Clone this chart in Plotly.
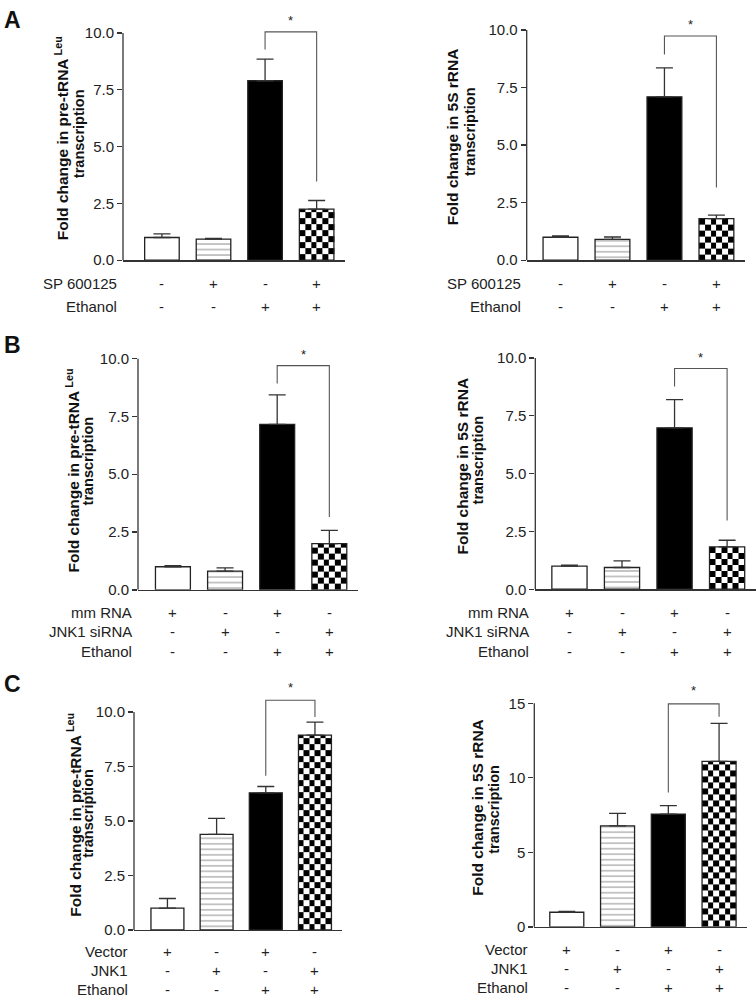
import numpy as np
import plotly.graph_objects as go

W, H = 756, 1002
FONT = "Liberation Sans, Arial, Helvetica, sans-serif"
SY = 1.009  # small vertical compensation observed in rendering

# ---------------- data ----------------
groups = [0, 1, 2, 3]

A_trna_mean = [1.00, 0.93, 7.90, 2.25]
A_trna_sem = [0.16, 0.03, 0.95, 0.38]
A_5s_mean = [1.00, 0.91, 7.10, 1.81]
A_5s_sem = [0.06, 0.10, 1.26, 0.15]

B_trna_mean = [1.00, 0.81, 7.16, 2.00]
B_trna_sem = [0.05, 0.14, 1.27, 0.57]
B_5s_mean = [1.00, 0.94, 6.98, 1.83]
B_5s_sem = [0.04, 0.29, 1.22, 0.29]

C_trna_mean = [1.00, 4.38, 6.29, 8.94]
C_trna_sem = [0.44, 0.74, 0.29, 0.59]
C_5s_mean = [0.98, 6.78, 7.57, 11.10]
C_5s_sem = [0.06, 0.83, 0.56, 2.56]

# significance bracket: [top, left leg end, right leg end, star]
A_trna_sig = [10.05, 9.27, 3.47, 10.55]
A_5s_sig = [9.74, 8.94, 3.16, 10.25]
B_trna_sig = [9.70, 8.92, 3.15, 10.20]
B_5s_sig = [9.55, 8.77, 2.97, 10.04]
C_trna_sig = [10.54, 7.07, 9.77, 11.10]
C_5s_sig = [14.96, 9.02, 14.10, 15.85]

ticks_10 = [0, 2.5, 5, 7.5, 10]
ticks_10_text = ["0.0", "2.5", "5.0", "7.5", "10.0"]
ticks_15 = [0, 5, 10, 15]
ticks_15_text = ["0", "5", "10", "15"]

A_rows = ["SP 600125", "Ethanol"]
A_signs = [["-", "+", "-", "+"], ["-", "-", "+", "+"]]
B_rows = ["mm RNA", "JNK1 siRNA", "Ethanol"]
B_signs = [["+", "-", "+", "-"], ["-", "+", "-", "+"], ["-", "-", "+", "+"]]
C_rows = ["Vector", "JNK1", "Ethanol"]
C_signs = [["+", "-", "+", "-"], ["-", "+", "-", "+"], ["-", "-", "+", "+"]]

TRNA_TITLE = ["Fold change in pre-tRNA<sup> Leu</sup>", "transcription"]
S5_TITLE = ["Fold change in 5S rRNA", "transcription"]

panels = [
    dict(mean=A_trna_mean, sem=A_trna_sem, sig=A_trna_sig, title=TRNA_TITLE,
         tv=ticks_10, tt=ticks_10_text, rows=A_rows, signs=A_signs),
    dict(mean=A_5s_mean, sem=A_5s_sem, sig=A_5s_sig, title=S5_TITLE,
         tv=ticks_10, tt=ticks_10_text, rows=A_rows, signs=A_signs),
    dict(mean=B_trna_mean, sem=B_trna_sem, sig=B_trna_sig, title=TRNA_TITLE,
         tv=ticks_10, tt=ticks_10_text, rows=B_rows, signs=B_signs),
    dict(mean=B_5s_mean, sem=B_5s_sem, sig=B_5s_sig, title=S5_TITLE,
         tv=ticks_10, tt=ticks_10_text, rows=B_rows, signs=B_signs),
    dict(mean=C_trna_mean, sem=C_trna_sem, sig=C_trna_sig, title=TRNA_TITLE,
         tv=ticks_10, tt=ticks_10_text, rows=C_rows, signs=C_signs),
    dict(mean=C_5s_mean, sem=C_5s_sem, sig=C_5s_sig, title=S5_TITLE,
         tv=ticks_15, tt=ticks_15_text, rows=C_rows, signs=C_signs),
]

# ---------------- geometry (pixels) ----------------
# t1/t2: centre of title line 1 / line 2
geoms = [
    dict(ax=123, end=345, xl=-0.755, y0=260, ppu=22.7, top=11.0,
         rows=[283.5, 306.5], t1=(62, 138), t2=(79, 134)),
    dict(ax=526.7, end=745, xl=-0.65, y0=260, ppu=23.0, top=11.0,
         rows=[283.5, 306.5], t1=(452, 137), t2=(470, 132)),
    dict(ax=138, end=358, xl=-0.67, y0=589.3, ppu=23.1, top=10.9,
         rows=[611.5, 631, 651], t1=(73, 470), t2=(88, 461)),
    dict(ax=535.3, end=756, xl=-0.65, y0=588.7, ppu=23.1, top=10.9,
         rows=[611.5, 631, 651], t1=(462, 466), t2=(478, 460)),
    dict(ax=134, end=342, xl=-0.68, y0=929, ppu=21.77, top=11.9,
         rows=[951, 970, 989], t1=(74, 814), t2=(88, 813)),
    dict(ax=534.3, end=747, xl=-0.64, y0=926, ppu=14.89, top=16.5,
         rows=[949, 968, 987], t1=(478, 807), t2=(494, 809)),
]
XR = 3.55
BW = 0.67


def py(v):
    """page pixel row -> paper fraction"""
    return 1 - v * SY / H


fig = go.Figure()
shapes, annotations = [], []
layout = {}

for i, (p, g) in enumerate(zip(panels, geoms), start=1):
    sfx = "" if i == 1 else str(i)
    xa, ya = "x" + sfx, "y" + sfx
    ytop_px = g["y0"] - g["top"] * g["ppu"]
    xdom = [g["ax"] / W, g["end"] / W]
    ydom = [py(g["y0"]), py(ytop_px)]

    # checkerboard fill for the 4th bar
    v = p["mean"][3]
    cell = 6.0 / g["ppu"]
    yedges = list(np.arange(0, v - cell * 0.3, cell)) + [v]
    xedges = list(np.linspace(3 - BW / 2, 3 + BW / 2, 7))
    z = [[(r + c) % 2 for c in range(6)] for r in range(len(yedges) - 1)]
    fig.add_trace(go.Heatmap(x=xedges, y=yedges, z=z, zmin=0, zmax=1,
                             colorscale=[[0, "black"], [1, "white"]],
                             showscale=False, hoverinfo="skip",
                             xaxis=xa, yaxis=ya))

    fig.add_trace(go.Bar(
        x=groups, y=p["mean"], width=BW, showlegend=False, xaxis=xa, yaxis=ya,
        marker=dict(color=["white", "white", "black", "rgba(0,0,0,0)"],
                    line=dict(color="#222", width=1.3),
                    pattern=dict(shape=["", "-", "", ""], fgcolor="#666",
                                 size=5.5, solidity=0.22)),
        error_y=dict(type="data", symmetric=False, array=p["sem"],
                     arrayminus=[0, 0, 0, 0], color="#333",
                     thickness=1.3, width=8.5),
    ))

    layout["xaxis" + sfx] = dict(domain=xdom, range=[g["xl"], XR], anchor=ya,
                                 showline=True, linecolor="#333", linewidth=1.3,
                                 showticklabels=False, ticks="", showgrid=False,
                                 zeroline=False, fixedrange=True)
    layout["yaxis" + sfx] = dict(domain=ydom, range=[0, g["top"]], anchor=xa,
                                 showline=False, ticks="outside", ticklen=5,
                                 tickwidth=1.3, tickcolor="#333",
                                 tickvals=p["tv"], ticktext=p["tt"],
                                 tickfont=dict(size=15, color="#222"),
                                 showgrid=False, zeroline=False, fixedrange=True)

    # y axis title (rotated, two lines)
    for txt, c, fs in zip(p["title"], (g["t1"], g["t2"]), (15.5, 14.5)):
        annotations.append(dict(x=c[0] / W, y=py(c[1]),
                                xref="paper", yref="paper", text=txt,
                                textangle=-90, showarrow=False,
                                xanchor="center", yanchor="middle",
                                font=dict(size=fs, color="#111", weight="bold")))

    # y axis line only up to top tick
    shapes.append(dict(type="line", xref=xa + " domain", yref=ya, x0=0, x1=0,
                       y0=0, y1=p["tv"][-1], line=dict(color="#333", width=1.3)))

    # significance bracket
    top, ll, rl, star = p["sig"]
    shapes.append(dict(type="path", xref=xa, yref=ya,
                       path=f"M 2,{ll} L 2,{top} L 3,{top} L 3,{rl}",
                       line=dict(color="#555", width=1.1)))
    annotations.append(dict(x=2.5, y=star, xref=xa, yref=ya, text="*",
                            showarrow=False, font=dict(size=13, color="#222")))

    # treatment rows
    for rname, signs, rpx in zip(p["rows"], p["signs"], g["rows"]):
        yp = py(rpx)
        annotations.append(dict(x=(g["ax"] - 4) / W, y=yp, xref="paper",
                                yref="paper", text=rname, showarrow=False,
                                xanchor="right", yanchor="middle",
                                font=dict(size=15, color="#222")))
        for gx, s in zip(groups, signs):
            annotations.append(dict(x=gx, y=yp, xref=xa, yref="paper", text=s,
                                    showarrow=False, xanchor="center",
                                    yanchor="middle",
                                    font=dict(size=15, color="#222")))

# panel letters
for letter, top_px in [("A", 5), ("B", 330), ("C", 668)]:
    annotations.append(dict(x=2 / W, y=py(top_px), xref="paper", yref="paper",
                            text=letter, showarrow=False, xanchor="left",
                            yanchor="top",
                            font=dict(size=23, color="#111", weight="bold")))

fig.update_layout(
    width=W, height=H, margin=dict(l=0, r=0, t=0, b=0),
    paper_bgcolor="white", plot_bgcolor="rgba(0,0,0,0)",
    font=dict(family=FONT, color="#222"), showlegend=False,
    bargap=0.3, shapes=shapes, annotations=annotations, **layout,
)

fig.write_html(
    "out.html",
    config={"displayModeBar": False, "staticPlot": True},
    post_script="document.body.style.margin='0px';"
                "document.body.style.overflow='hidden';"
                "var d=document.getElementById('{plot_id}');"
                "d.style.position='fixed';d.style.left='0px';d.style.top='0px';",
)
